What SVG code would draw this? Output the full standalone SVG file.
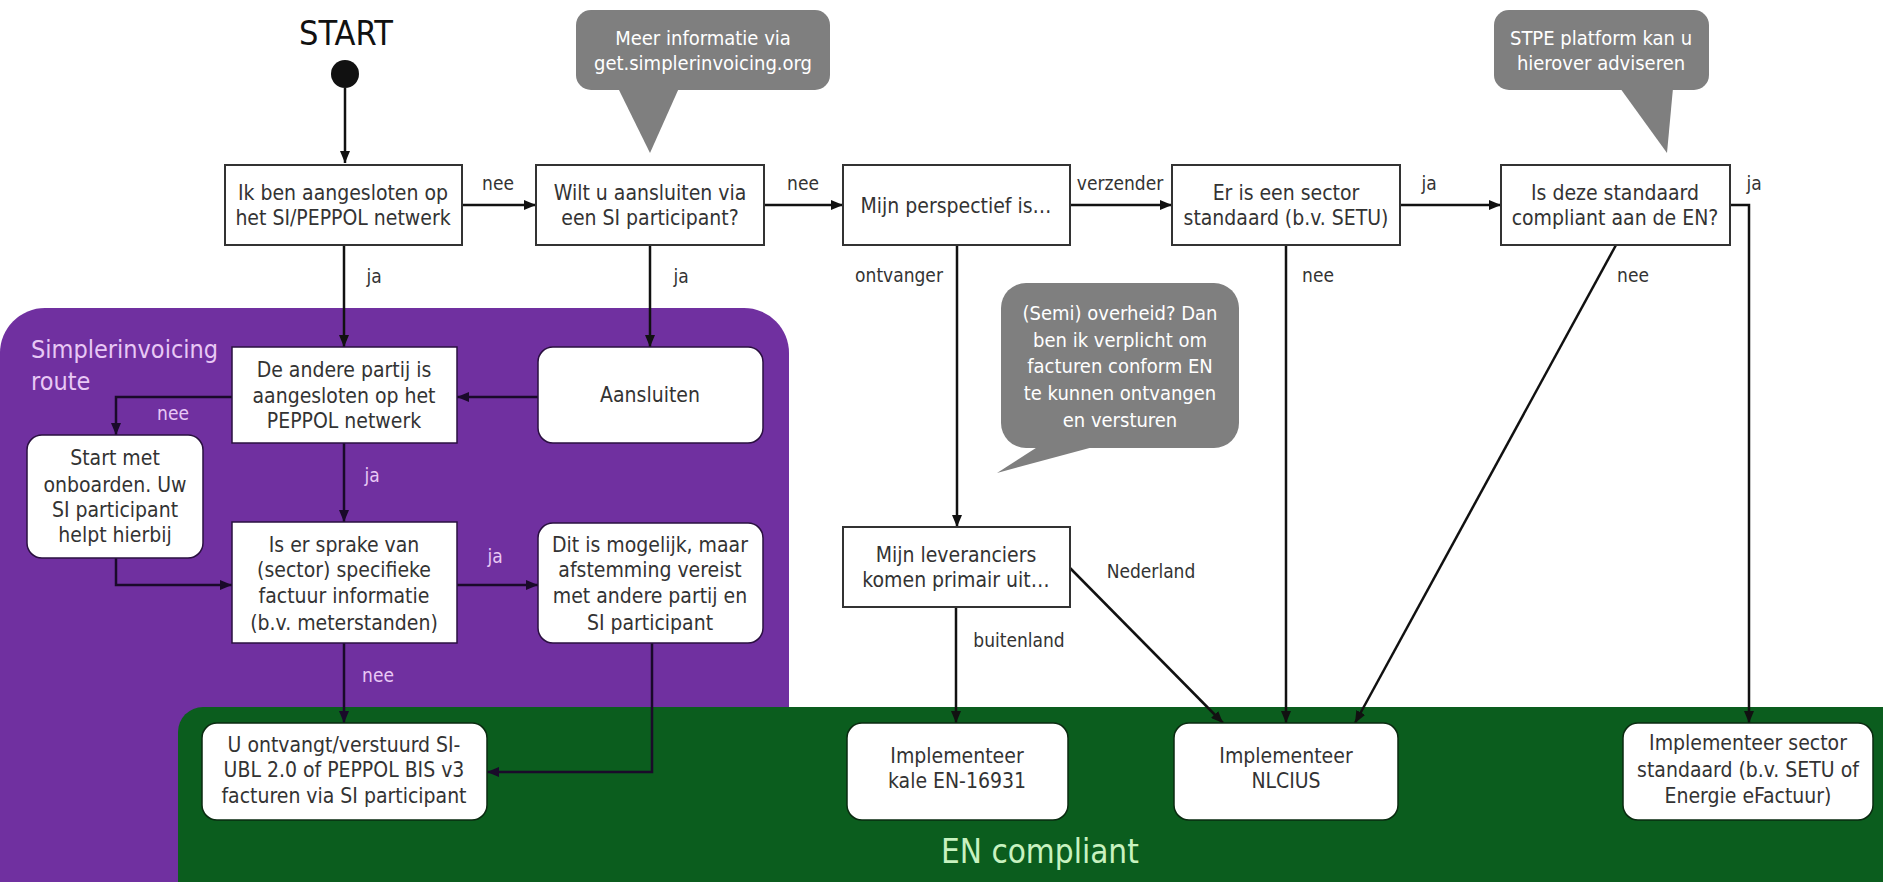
<svg xmlns="http://www.w3.org/2000/svg" width="1883" height="882" viewBox="0 0 1883 882">
<defs>
<style>
.bt{font-family:"Liberation Sans Narrow","DejaVu Sans Condensed","Liberation Sans",sans-serif;font-stretch:condensed;font-size:21px;fill:#333;text-anchor:middle}
.lb{font-family:"Liberation Sans Narrow","DejaVu Sans Condensed","Liberation Sans",sans-serif;font-stretch:condensed;font-size:19px;fill:#333;text-anchor:middle}
.lp{fill:#E8C8F5}
.ct{font-family:"Liberation Sans Narrow","DejaVu Sans Condensed","Liberation Sans",sans-serif;font-stretch:condensed;font-size:20px;fill:#fff;text-anchor:middle}
.sq{fill:#fff;stroke:#333;stroke-width:2}
.pb{fill:#fff;stroke:#2a1040;stroke-width:1.5}
.gb{fill:#fff;stroke:#0a2a10;stroke-width:1.5}
.cn{fill:none;stroke:#111;stroke-width:2.5}
.cp{fill:none;stroke:#1a0a2a;stroke-width:2.5}
.call{fill:#7f7f7f}
</style>
<marker id="ah" viewBox="0 0 12 10" refX="12" refY="5" markerWidth="12" markerHeight="10" markerUnits="userSpaceOnUse" orient="auto">
<path d="M0,0 L12,5 L0,10 z" fill="#111"/>
</marker>
<marker id="ahp" viewBox="0 0 12 10" refX="12" refY="5" markerWidth="12" markerHeight="10" markerUnits="userSpaceOnUse" orient="auto">
<path d="M0,0 L12,5 L0,10 z" fill="#1a0a2a"/>
</marker>
</defs>
<rect x="0" y="0" width="1883" height="882" fill="#fff"/>

<g id="region-simplerinvoicing">
<rect x="0" y="308" width="789" height="620" rx="45" fill="#7030A0"/>
<text x="31" y="358" font-family="Liberation Sans Narrow,DejaVu Sans Condensed,Liberation Sans,sans-serif" font-stretch="condensed" font-size="25" fill="#E8C8F5">Simplerinvoicing</text>
<text x="31" y="390" font-family="Liberation Sans Narrow,DejaVu Sans Condensed,Liberation Sans,sans-serif" font-stretch="condensed" font-size="25" fill="#E8C8F5">route</text>
</g>
<g id="region-en-compliant">
<rect x="178" y="707" width="1740" height="220" rx="25" fill="#0B5D1E"/>
<text x="941" y="863" font-family="Liberation Sans Narrow,DejaVu Sans Condensed,Liberation Sans,sans-serif" font-stretch="condensed" font-size="33" fill="#C8F2C0">EN compliant</text>
</g>

<g id="start">
<text x="346" y="45" font-family="Liberation Sans Narrow,DejaVu Sans Condensed,Liberation Sans,sans-serif" font-stretch="condensed" font-size="34" fill="#111" text-anchor="middle">START</text>
<circle cx="345" cy="74" r="14" fill="#111"/>
</g>

<g id="callout-info">
<rect x="576" y="10" width="254" height="80" rx="15" class="call"/>
<polygon points="618,88 679,88 650,153" class="call"/>
<text x="703" y="45" class="ct">Meer informatie via</text>
<text x="703" y="70" class="ct">get.simplerinvoicing.org</text>
</g>
<g id="callout-stpe">
<rect x="1494" y="10" width="215" height="80" rx="15" class="call"/>
<polygon points="1620,88 1673,88 1667,153" class="call"/>
<text x="1601" y="45" class="ct">STPE platform kan u</text>
<text x="1601" y="70" class="ct">hierover adviseren</text>
</g>
<g id="callout-overheid">
<rect x="1001" y="283" width="238" height="165" rx="25" class="call"/>
<polygon points="1039,446 1097,446 997,473" class="call"/>
<text x="1120" y="320" class="ct">(Semi) overheid? Dan</text>
<text x="1120" y="347" class="ct">ben ik verplicht om</text>
<text x="1120" y="373" class="ct">facturen conform EN</text>
<text x="1120" y="400" class="ct">te kunnen ontvangen</text>
<text x="1120" y="427" class="ct">en versturen</text>
</g>

<g id="connectors">
<line x1="345" y1="88" x2="345" y2="163" class="cn" marker-end="url(#ah)"/>
<line x1="462" y1="205" x2="536" y2="205" class="cn" marker-end="url(#ah)"/>
<line x1="764" y1="205" x2="843" y2="205" class="cn" marker-end="url(#ah)"/>
<line x1="1070" y1="205" x2="1172" y2="205" class="cn" marker-end="url(#ah)"/>
<line x1="1400" y1="205" x2="1501" y2="205" class="cn" marker-end="url(#ah)"/>
<polyline points="1730,205 1749,205 1749,723" class="cn" marker-end="url(#ah)"/>
<line x1="344" y1="245" x2="344" y2="347" class="cn" marker-end="url(#ah)"/>
<line x1="650" y1="245" x2="650" y2="347" class="cn" marker-end="url(#ah)"/>
<line x1="957" y1="245" x2="957" y2="527" class="cn" marker-end="url(#ah)"/>
<line x1="1286" y1="245" x2="1286" y2="723" class="cn" marker-end="url(#ah)"/>
<line x1="1616" y1="245" x2="1355" y2="723" class="cn" marker-end="url(#ah)"/>
<line x1="1070" y1="568" x2="1223" y2="723" class="cn" marker-end="url(#ah)"/>
<line x1="956" y1="607" x2="956" y2="723" class="cn" marker-end="url(#ah)"/>
<line x1="538" y1="397" x2="457" y2="397" class="cp" marker-end="url(#ahp)"/>
<polyline points="232,397 116,397 116,435" class="cp" marker-end="url(#ahp)"/>
<line x1="344" y1="443" x2="344" y2="522" class="cp" marker-end="url(#ahp)"/>
<polyline points="116,558 116,585 232,585" class="cp" marker-end="url(#ahp)"/>
<line x1="457" y1="585" x2="538" y2="585" class="cp" marker-end="url(#ahp)"/>
<line x1="344" y1="643" x2="344" y2="723" class="cp" marker-end="url(#ahp)"/>
<polyline points="652,643 652,772 487,772" class="cp" marker-end="url(#ahp)"/>
<text x="498" y="190" class="lb">nee</text>
<text x="803" y="190" class="lb">nee</text>
<text x="1120" y="190" class="lb">verzender</text>
<text x="1429" y="190" class="lb">ja</text>
<text x="1754" y="190" class="lb">ja</text>
<text x="374" y="283" class="lb">ja</text>
<text x="681" y="283" class="lb">ja</text>
<text x="899" y="282" class="lb">ontvanger</text>
<text x="1318" y="282" class="lb">nee</text>
<text x="1633" y="282" class="lb">nee</text>
<text x="1151" y="578" class="lb">Nederland</text>
<text x="1019" y="647" class="lb">buitenland</text>
<text x="173" y="420" class="lb lp">nee</text>
<text x="372" y="482" class="lb lp">ja</text>
<text x="495" y="563" class="lb lp">ja</text>
<text x="378" y="682" class="lb lp">nee</text>
</g>

<g id="node-aangesloten">
<rect x="225" y="165" width="237" height="80" class="sq"/>
<text x="343" y="200" class="bt">Ik ben aangesloten op</text>
<text x="343" y="225" class="bt">het SI/PEPPOL netwerk</text>
</g>
<g id="node-aansluiten-via">
<rect x="536" y="165" width="228" height="80" class="sq"/>
<text x="650" y="200" class="bt">Wilt u aansluiten via</text>
<text x="650" y="225" class="bt">een SI participant?</text>
</g>
<g id="node-perspectief">
<rect x="843" y="165" width="227" height="80" class="sq"/>
<text x="956" y="213" class="bt">Mijn perspectief is…</text>
</g>
<g id="node-sector-standaard">
<rect x="1172" y="165" width="228" height="80" class="sq"/>
<text x="1286" y="200" class="bt">Er is een sector</text>
<text x="1286" y="225" class="bt">standaard (b.v. SETU)</text>
</g>
<g id="node-compliant">
<rect x="1501" y="165" width="229" height="80" class="sq"/>
<text x="1615" y="200" class="bt">Is deze standaard</text>
<text x="1615" y="225" class="bt">compliant aan de EN?</text>
</g>
<g id="node-leveranciers">
<rect x="843" y="527" width="227" height="80" class="sq"/>
<text x="956" y="562" class="bt">Mijn leveranciers</text>
<text x="956" y="587" class="bt">komen primair uit…</text>
</g>
<g id="node-andere-partij">
<rect x="232" y="347" width="225" height="96" class="pb"/>
<text x="344" y="377" class="bt">De andere partij is</text>
<text x="344" y="403" class="bt">aangesloten op het</text>
<text x="344" y="428" class="bt">PEPPOL netwerk</text>
</g>
<g id="node-aansluiten">
<rect x="538" y="347" width="225" height="96" rx="15" class="pb"/>
<text x="650" y="402" class="bt">Aansluiten</text>
</g>
<g id="node-onboarden">
<rect x="27" y="435" width="176" height="123" rx="15" class="pb"/>
<text x="115" y="465" class="bt">Start met</text>
<text x="115" y="492" class="bt">onboarden. Uw</text>
<text x="115" y="517" class="bt">SI participant</text>
<text x="115" y="542" class="bt">helpt hierbij</text>
</g>
<g id="node-specifiek">
<rect x="232" y="522" width="225" height="121" class="pb"/>
<text x="344" y="552" class="bt">Is er sprake van</text>
<text x="344" y="577" class="bt">(sector) specifieke</text>
<text x="344" y="603" class="bt">factuur informatie</text>
<text x="344" y="630" class="bt">(b.v. meterstanden)</text>
</g>
<g id="node-mogelijk">
<rect x="538" y="523" width="225" height="120" rx="15" class="pb"/>
<text x="650" y="552" class="bt">Dit is mogelijk, maar</text>
<text x="650" y="577" class="bt">afstemming vereist</text>
<text x="650" y="603" class="bt">met andere partij en</text>
<text x="650" y="630" class="bt">SI participant</text>
</g>
<g id="node-si-ubl">
<rect x="202" y="723" width="285" height="97" rx="15" class="gb"/>
<text x="344" y="752" class="bt">U ontvangt/verstuurd SI-</text>
<text x="344" y="777" class="bt">UBL 2.0 of PEPPOL BIS v3</text>
<text x="344" y="803" class="bt">facturen via SI participant</text>
</g>
<g id="node-kale-en">
<rect x="847" y="723" width="221" height="97" rx="15" class="gb"/>
<text x="957" y="763" class="bt">Implementeer</text>
<text x="957" y="788" class="bt">kale EN-16931</text>
</g>
<g id="node-nlcius">
<rect x="1174" y="723" width="224" height="97" rx="15" class="gb"/>
<text x="1286" y="763" class="bt">Implementeer</text>
<text x="1286" y="788" class="bt">NLCIUS</text>
</g>
<g id="node-sector-impl">
<rect x="1623" y="723" width="250" height="97" rx="15" class="gb"/>
<text x="1748" y="750" class="bt">Implementeer sector</text>
<text x="1748" y="777" class="bt">standaard (b.v. SETU of</text>
<text x="1748" y="803" class="bt">Energie eFactuur)</text>
</g>
</svg>
